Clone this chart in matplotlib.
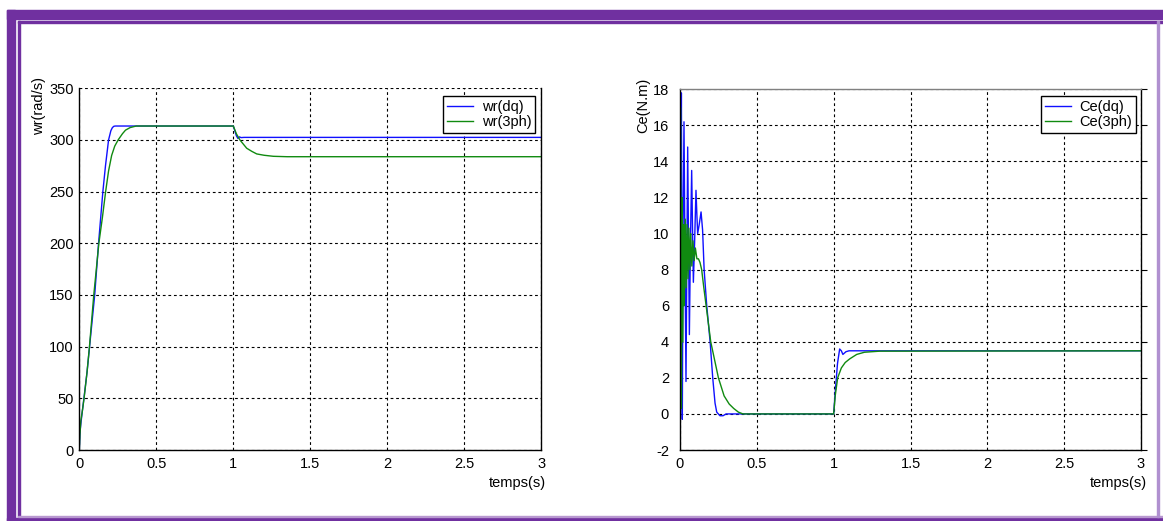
"""Speed and electromagnetic torque of the induction machine: dq model vs 3-phase model."""

import matplotlib.pyplot as plt
from matplotlib.patches import Rectangle

plt.rcParams["font.family"] = ["Liberation Sans", "DejaVu Sans"]
plt.rcParams["axes.unicode_minus"] = False

# Rotor speed wr (rad/s)
T_WR_DQ = [0, 0.005, 0.012, 0.02, 0.03, 0.05, 0.07, 0.1, 0.125, 0.153, 0.17, 0.19,
           0.205, 0.215, 0.225, 0.235, 0.5, 1.0, 1.01, 1.02, 1.03, 1.04, 1.05, 1.07, 3.0]
WR_DQ = [0, 18, 28, 38, 50, 75, 105, 150, 200, 250, 275, 300,
         309, 312, 313.3, 313.5, 313.5, 313.5, 309, 304, 301.5, 303, 302.3, 302.5, 302.5]

T_WR_3PH = [0, 0.004, 0.01, 0.02, 0.031, 0.05, 0.066, 0.094, 0.127, 0.15, 0.171, 0.19,
            0.21, 0.23, 0.252, 0.28, 0.30, 0.33, 0.37, 1.0, 1.02, 1.043, 1.087, 1.12,
            1.152, 1.2, 1.26, 1.35, 3.0]
WR_3PH = [0, 15, 28, 38, 50, 75, 100, 150, 200, 225, 250, 270,
          285, 294, 300, 306, 309.5, 312, 313.5, 313.5, 306, 300, 292, 289,
          286.5, 285.2, 284.2, 283.8, 283.8]

# Electromagnetic torque Ce (N.m)
T_CE_DQ = [0, 0.003, 0.009, 0.012, 0.015, 0.02, 0.026, 0.033, 0.039, 0.045, 0.05, 0.055,
           0.061, 0.068, 0.076, 0.082, 0.087, 0.095, 0.104, 0.11, 0.115, 0.125, 0.137,
           0.147, 0.157, 0.174, 0.196, 0.213, 0.228, 0.239, 0.26, 0.28, 0.3, 0.42,
           1.0, 1.01, 1.025, 1.039, 1.05, 1.06, 1.08, 1.1, 1.15, 3.0]
CE_DQ = [0, 5.3, 17.8, 9.5, -0.3, 10.2, 16.2, 8, 1.8, 9, 14.8, 10,
         4.4, 9.5, 13.5, 10, 7.3, 9.5, 12.4, 11, 10, 10.5, 11.2,
         10.2, 8, 6, 4, 2, 0.6, 0.1, -0.1, -0.1, 0, 0,
         0, 1.2, 2.8, 3.6, 3.5, 3.3, 3.45, 3.5, 3.5, 3.5]

T_CE_3PH = [0, 0.003, 0.006, 0.009, 0.013, 0.018, 0.023, 0.028, 0.034, 0.04, 0.046, 0.052,
            0.058, 0.064, 0.07, 0.077, 0.084, 0.092, 0.1, 0.11, 0.12, 0.13, 0.141, 0.155,
            0.17, 0.2, 0.225, 0.25, 0.287, 0.32, 0.35, 0.38, 0.41,
            1.0, 1.01, 1.026, 1.05, 1.075, 1.104, 1.15, 1.2, 1.3, 3.0]
CE_3PH = [0, 17, 9, 0.3, 12, 4, 10.5, 6, 10.8, 7, 10.5, 7.5,
          10.3, 8, 10, 8.2, 9.6, 8.5, 9.2, 8.6, 8.6, 8.4, 8, 7,
          6, 4, 3, 2, 1, 0.55, 0.3, 0.1, 0,
          0, 1, 2, 2.55, 2.85, 3.05, 3.3, 3.42, 3.48, 3.5]

X_TICKS = [0, 0.5, 1, 1.5, 2, 2.5, 3]
WR_TICKS = [0, 50, 100, 150, 200, 250, 300, 350]
CE_TICKS = [-2, 0, 2, 4, 6, 8, 10, 12, 14, 16, 18]

BLUE = "#1010ff"
GREEN = "#108a10"
PURPLE = "#7030a0"
W, H = 1163, 521


def fx(px):
    return px / W


def fy(py):
    return 1 - py / H


def style_axes(ax, yticks, ylim):
    ax.set_xlim(0, 3)
    ax.set_ylim(*ylim)
    ax.set_xticks(X_TICKS)
    ax.set_xticklabels([f"{v:g}" for v in X_TICKS])
    ax.set_yticks(yticks)
    ax.grid(True, color="black", linestyle=(0, (2.5, 2.5)), linewidth=0.8)
    ax.tick_params(axis="both", labelsize=10.5, length=0)
    ax.tick_params(axis="x", pad=5)
    ax.tick_params(axis="y", pad=4)
    for s in ax.spines.values():
        s.set_linewidth(1.0)
        s.set_color("black")


def add_border(fig):
    # outer thick band + thin inner rule
    fig.patches.append(Rectangle((fx(7), fy(19)), 1 - fx(7), fy(10) - fy(19),
                                 transform=fig.transFigure, color=PURPLE, zorder=0))
    fig.patches.append(Rectangle((fx(7), 0), fx(15) - fx(7), fy(10),
                                 transform=fig.transFigure, color=PURPLE, zorder=0))
    fig.patches.append(Rectangle((fx(7), 0), 1 - fx(7), fy(517.5),
                                 transform=fig.transFigure, color=PURPLE, zorder=0))
    fig.patches.append(Rectangle((fx(17.5), fy(22.5)), 1 - fx(17.5), fy(21) - fy(22.5),
                                 transform=fig.transFigure, color=PURPLE, zorder=0))
    fig.patches.append(Rectangle((fx(17.5), fy(517)), fx(19.5) - fx(17.5), fy(21) - fy(517),
                                 transform=fig.transFigure, color=PURPLE, zorder=0))
    fig.patches.append(Rectangle((fx(17.5), fy(517)), 1 - fx(17.5), fy(515.5) - fy(517),
                                 transform=fig.transFigure, color="#b898d0", zorder=0))
    fig.patches.append(Rectangle((fx(1156.5), fy(517)), fx(1158.5) - fx(1156.5), fy(21) - fy(517),
                                 transform=fig.transFigure, color="#b090d0", zorder=0))


def main():
    fig = plt.figure(figsize=(W / 100, H / 100), dpi=100)
    add_border(fig)

    # --- speed ---
    ax1 = fig.add_axes([fx(79.3), fy(450), fx(541.3) - fx(79.3), fy(88.3) - fy(450)])
    style_axes(ax1, WR_TICKS, (0, 350))
    ax1.spines["top"].set_visible(False)
    ax1.plot(T_WR_DQ, WR_DQ, color=BLUE, linewidth=1.0, label="wr(dq)")
    ax1.plot(T_WR_3PH, WR_3PH, color=GREEN, linewidth=1.0, label="wr(3ph)")
    ax1.legend(loc="upper right", bbox_to_anchor=(fx(535), fy(96)), bbox_transform=fig.transFigure,
               borderaxespad=0, fontsize=10.5, fancybox=False, framealpha=1, edgecolor="black",
               handlelength=1.8, handletextpad=0.6, labelspacing=0.1, borderpad=0.25)
    fig.text(fx(39), fy(77), "wr(rad/s)", rotation=90, ha="center", va="top", fontsize=10.5)
    fig.text(fx(546), fy(483), "temps(s)", ha="right", va="center", fontsize=10.5)

    # --- torque ---
    ax2 = fig.add_axes([fx(680), fy(450), fx(1141) - fx(680), fy(89.3) - fy(450)])
    style_axes(ax2, CE_TICKS, (-2, 18))
    ax2.spines["top"].set_color("#808080")
    ax2.tick_params(axis="y", right=True, direction="out", length=4, width=0.8, pad=4)
    for t in ax2.yaxis.get_major_ticks():
        t.tick1line.set_visible(False)
    ax2.plot(T_CE_DQ, CE_DQ, color=BLUE, linewidth=1.0, label="Ce(dq)")
    ax2.plot(T_CE_3PH, CE_3PH, color=GREEN, linewidth=1.0, label="Ce(3ph)")
    ax2.legend(loc="upper right", bbox_to_anchor=(fx(1136), fy(96)), bbox_transform=fig.transFigure,
               borderaxespad=0, fontsize=10.5, fancybox=False, framealpha=1, edgecolor="black",
               handlelength=1.8, handletextpad=0.6, labelspacing=0.1, borderpad=0.25)
    fig.text(fx(643), fy(78), "Ce(N.m)", rotation=90, ha="center", va="top", fontsize=10.5)
    fig.text(fx(1147), fy(483), "temps(s)", ha="right", va="center", fontsize=10.5)

    fig.savefig("out.png", dpi=100)
    plt.close(fig)


if __name__ == "__main__":
    main()
